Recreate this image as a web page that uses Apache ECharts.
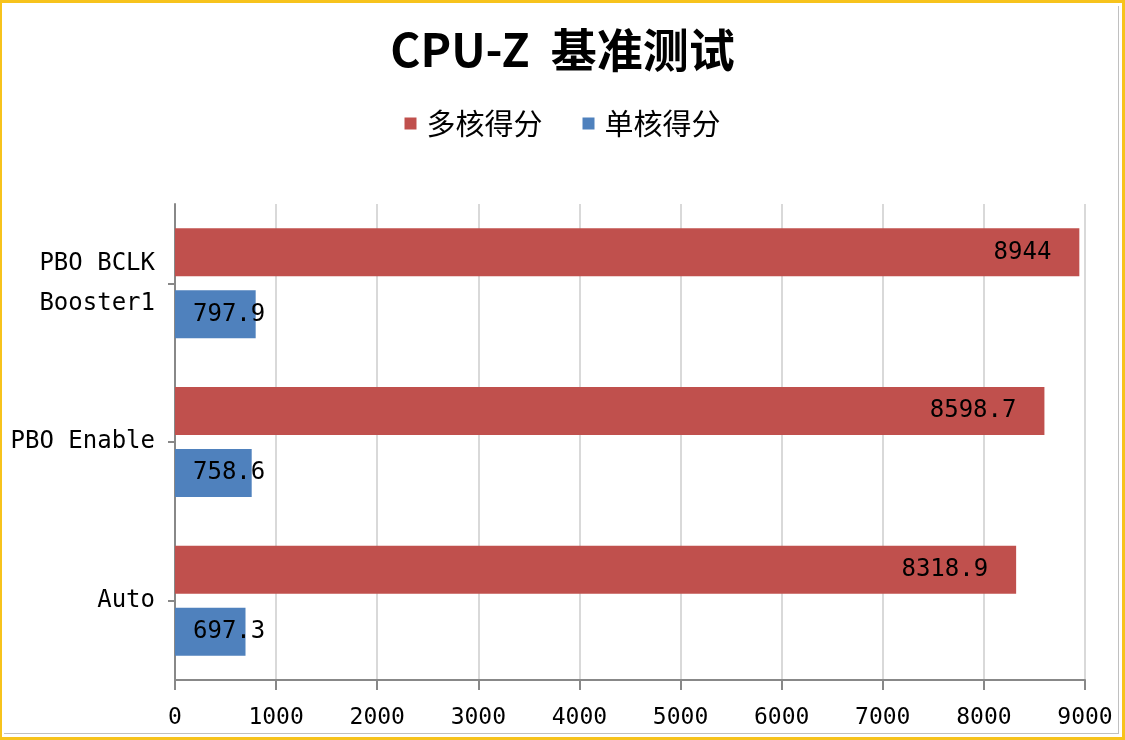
<!DOCTYPE html>
<html>
<head>
<meta charset="utf-8">
<script src="https://cdn.jsdelivr.net/npm/echarts@6/dist/echarts.min.js"></script>
<style>
html,body{margin:0;padding:0;background:#fff;}
#chart{position:absolute;left:0;top:0;width:1125px;height:740px;}
#frame{position:absolute;left:0;top:0;width:1125px;height:740px;box-sizing:border-box;border:3px solid #f7c31c;border-left-width:2px;pointer-events:none;}
#inner{position:absolute;left:2px;top:3px;right:3px;bottom:3px;border-right:1px solid #c0c0c0;border-bottom:1px solid #c0c0c0;pointer-events:none;}
</style>
</head>
<body>
<div id="chart"></div>
<div id="frame"><div id="inner"></div></div>
<script>
var titleText = 'CPU-Z  基准测试';
var categories = ['Auto', 'PBO Enable', 'PBO BCLK\nBooster1'];
var multiName = '多核得分';
var singleName = '单核得分';
var multiCore = [8318.9, 8598.7, 8944];
var singleCore = [697.3, 758.6, 797.9];
var xTicks = [0, 1000, 2000, 3000, 4000, 5000, 6000, 7000, 8000, 9000];

var mono = 'DejaVu Sans Mono';
var chart = echarts.init(document.getElementById('chart'));
chart.setOption({
  animation: false,
  backgroundColor: '#fff',
  title: {
    text: titleText,
    left: 'center',
    top: 22,
    textStyle: {fontFamily: 'Noto Sans CJK SC', fontWeight: 'bold', fontSize: 46, color: '#000'}
  },
  legend: {
    data: [multiName, singleName],
    left: 'center',
    top: 104,
    itemWidth: 12,
    itemHeight: 12,
    itemGap: 40,
    icon: 'rect',
    textStyle: {fontFamily: 'Noto Sans CJK SC', fontSize: 29, color: '#000', padding: [0, 0, 0, 5]}
  },
  grid: {left: 175, right: 40, top: 204, bottom: 60, containLabel: false},
  xAxis: {
    type: 'value',
    min: xTicks[0],
    max: xTicks[xTicks.length - 1],
    interval: xTicks[1] - xTicks[0],
    axisLine: {show: true, lineStyle: {color: '#888', width: 2}},
    axisTick: {show: true, length: 10, lineStyle: {color: '#888', width: 2}},
    splitLine: {show: true, lineStyle: {color: '#d9d9d9', width: 2}},
    axisLabel: {fontFamily: mono, fontSize: 23, color: '#000', margin: 27, formatter: function (v) { return String(v); }}
  },
  yAxis: {
    type: 'category',
    data: categories,
    axisLine: {show: true, lineStyle: {color: '#888', width: 2}},
    axisTick: {show: true, alignWithLabel: true, length: 7, lineStyle: {color: '#888', width: 2}},
    axisLabel: {fontFamily: mono, fontSize: 24, color: '#000', margin: 20, lineHeight: 40, align: 'right'}
  },
  series: [
    {
      name: multiName,
      type: 'bar',
      data: multiCore,
      barWidth: 48,
      barGap: '29%',
      itemStyle: {color: '#c0504d'},
      label: {show: true, position: 'insideRight', distance: 28, fontFamily: mono, fontSize: 24, color: '#000'}
    },
    {
      name: singleName,
      type: 'bar',
      data: singleCore,
      barWidth: 48,
      barGap: '29%',
      itemStyle: {color: '#4f81bd'},
      label: {show: true, position: 'insideLeft', distance: 18, fontFamily: mono, fontSize: 24, color: '#000'}
    }
  ]
});
</script>
</body>
</html>
